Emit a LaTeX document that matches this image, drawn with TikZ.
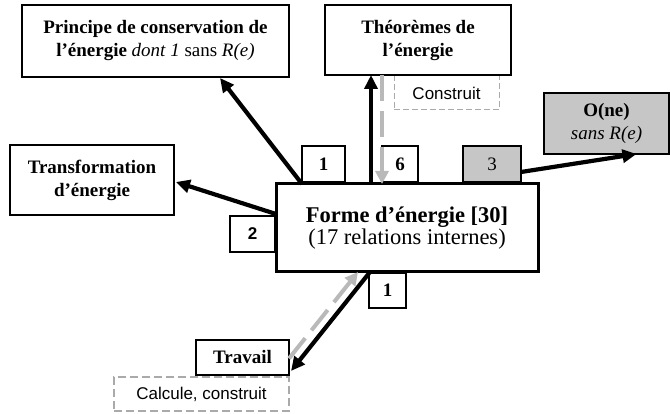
\documentclass[tikz,border=0pt]{standalone}
\usepackage{fontspec}
\setmainfont{Liberation Serif}
\setsansfont{Liberation Sans}
\usetikzlibrary{arrows.meta,calc,shadows}
\definecolor{boxgray}{RGB}{198,198,198}
\definecolor{arrgray}{RGB}{185,185,185}
\definecolor{dashgray}{RGB}{170,170,170}
\tikzset{
  shad/.style={drop shadow={shadow xshift=1.4pt, shadow yshift=-1.4pt, fill=black, opacity=1}},
  box/.style={draw=black, line width=1.3pt, fill=white, inner sep=0pt, outer sep=0pt, align=center,
    font=\fontsize{19}{23}\selectfont\bfseries, shad},
  mainbox/.style={draw=black, line width=3pt, fill=white, inner sep=0pt, outer sep=0pt, align=center},
  numbox/.style={draw=black, line width=1.4pt, fill=white, inner sep=0pt, outer sep=0pt,
    minimum height=36pt, font=\fontsize{19}{20}\selectfont\bfseries},
  graynum/.style={numbox, fill=boxgray, font=\fontsize{19}{20}\selectfont},
  dashbox/.style={draw=dashgray, dash pattern=on 6pt off 3pt, line width=1pt, inner sep=0pt, outer sep=0pt,
    font=\sffamily\fontsize{17}{20}\selectfont},
  dashboxthick/.style={dashbox, line width=2pt, dash pattern=on 8pt off 4pt},
  thickarrow/.style={draw=black, line width=4.2pt, -{Triangle[length=14pt,width=13pt]}},
  grayarrow/.style={draw=arrgray, line width=4pt, dash pattern=on 26pt off 10pt, -{Triangle[length=13pt,width=13pt]}},
}
\begin{document}
\begin{tikzpicture}[x=1pt,y=-1pt]
\useasboundingbox (0,0) rectangle (670,414);
% dashed label boxes (behind)
\node[dashbox, minimum width=105pt, minimum height=34pt] (cons) at (446.5,93) {Construit};
\node[dashboxthick, minimum width=175pt, minimum height=34pt] (calc) at (201.5,394) {\raisebox{-2pt}{Calcule, construit}};
% main boxes
\node[box, minimum width=267pt, minimum height=72pt] (pr) at (155.5,41)
  {Principe de conservation de\\l’énergie \textnormal{\textit{dont 1} sans \textit{R(e)}}};
\node[box, minimum width=186pt, minimum height=70pt] (th) at (418,40)
  {Théorèmes de\\l’énergie};
\node[box, minimum width=164pt, minimum height=70pt] (tr) at (92,180)
  {Transformation\\d’énergie};
\node[box, fill=boxgray, minimum width=125pt, minimum height=61pt] (one) at (606.5,123.5)
  {\fontsize{19}{21}\selectfont O(ne)\\\textnormal{\textit{sans R(e)}}};
\node[box, minimum width=93pt, minimum height=35pt] (tv) at (242.5,357.5)
  {\raisebox{-4pt}{Travail}};
\node[mainbox, minimum width=262pt, minimum height=88pt] (main) at (407,228)
  {\fontsize{22.5}{31}\selectfont\textbf{Forme d’énergie [30]}\\\fontsize{22.5}{31}\selectfont(17 relations internes)};
% number boxes
\node[numbox, minimum width=43pt] (n1) at (323.5,164) {1};
\node[numbox, minimum width=36pt] (n6) at (400,164) {6};
\node[graynum, minimum width=58pt] (n3) at (492,164) {3};
\node[numbox, minimum width=45pt, font=\sffamily\fontsize{17}{20}\selectfont\bfseries] (n2) at (252.5,234) {2};
\node[numbox, minimum width=37pt, minimum height=35pt] (n1b) at (387.5,290.5) {1};
% arrows
\draw[thickarrow] ([xshift=-105pt]main.north) -- ([xshift=198pt,yshift=-1pt]pr.south west);
\draw[thickarrow] ([yshift=14pt]main.west) -- ([xshift=2pt,yshift=-2pt]tr.east);
\draw[thickarrow] ([xshift=-36pt]main.north) -- ([xshift=-47pt]th.south);
\draw[grayarrow] ([xshift=-36pt]th.south) -- ([xshift=-25pt]main.north);
\draw[thickarrow] ([yshift=-8pt]n3.east) -- ([xshift=30pt]one.south);
\draw[thickarrow] ([xshift=-37pt]main.south) -- ([xshift=2pt,yshift=4pt]tv.south east);
\draw[grayarrow] ([yshift=-1pt]tv.east) -- ([xshift=-49pt]main.south);
\end{tikzpicture}
\end{document}
